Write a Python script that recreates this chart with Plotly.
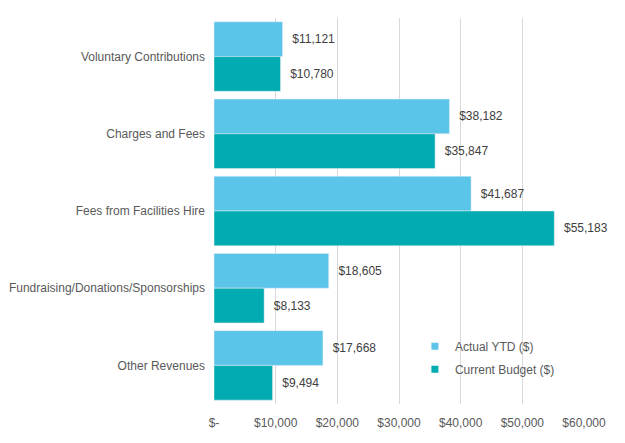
import plotly.graph_objects as go

categories = ["Voluntary Contributions", "Charges and Fees", "Fees from Facilities Hire",
              "Fundraising/Donations/Sponsorships", "Other Revenues"]
actual_ytd = [11121, 38182, 41687, 18605, 17668]
current_budget = [10780, 35847, 55183, 8133, 9494]
tick_values = [0, 10000, 20000, 30000, 40000, 50000, 60000]
tick_labels = ["$-", "$10,000", "$20,000", "$30,000", "$40,000", "$50,000", "$60,000"]

font_family = "Liberation Sans, Arial, sans-serif"
c_actual = "#5BC5E9"
c_budget = "#00ABB1"

fig = go.Figure()
fig.add_trace(go.Bar(
    y=categories, x=actual_ytd, orientation="h", name="Actual YTD ($)",
    marker=dict(color=c_actual), showlegend=False,
    text=["\u00a0\u00a0" + f"${v:,.0f}" for v in actual_ytd], textposition="outside",
    textfont=dict(size=12, color="#404040", family=font_family),
    cliponaxis=False,
))
fig.add_trace(go.Bar(
    y=categories, x=current_budget, orientation="h", name="Current Budget ($)",
    marker=dict(color=c_budget), showlegend=False,
    text=["\u00a0\u00a0" + f"${v:,.0f}" for v in current_budget], textposition="outside",
    textfont=dict(size=12, color="#404040", family=font_family),
    cliponaxis=False,
))
# legend entries
fig.add_trace(go.Scatter(x=[None], y=[None], mode="markers", name="Actual YTD ($)",
                         marker=dict(symbol="square", size=7, color=c_actual),
                         legendgroup="a"))
fig.add_trace(go.Scatter(x=[None], y=[None], mode="markers", name="Current Budget ($)",
                         marker=dict(symbol="square", size=7, color=c_budget),
                         legendgroup="b"))

fig.update_layout(
    width=625, height=443,
    margin=dict(l=206, r=49, t=10, b=47, autoexpand=False),
    barmode="group", bargap=0.1, bargroupgap=0,
    plot_bgcolor="white", paper_bgcolor="white",
    font=dict(family=font_family, size=12, color="#595959"),
    xaxis=dict(range=[0, 60000], tickvals=tick_values, ticktext=tick_labels,
               showgrid=True, gridcolor="#D9D9D9", gridwidth=1, zeroline=False,
               showline=False, ticks="", automargin=False, ticklabelstandoff=10,
               tickfont=dict(size=12, color="#595959")),
    yaxis=dict(autorange="reversed", showgrid=False, showline=False, ticks="",
               automargin=False, ticklabelstandoff=8,
               tickfont=dict(size=12, color="#595959")),
    legend=dict(x=0.543, y=0.187, xanchor="left", yanchor="top",
                bgcolor="rgba(0,0,0,0)", font=dict(size=12, color="#595959"),
                traceorder="grouped", tracegroupgap=4, itemwidth=30),
    showlegend=True,
)

fig.write_html("out.html")
